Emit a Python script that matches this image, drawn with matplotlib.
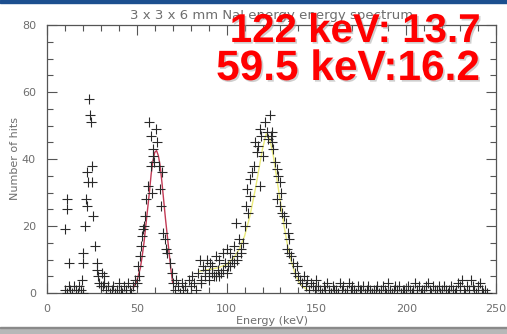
import matplotlib
matplotlib.use("Agg")
import matplotlib.pyplot as plt
import matplotlib.patheffects as pe
from matplotlib.ticker import MultipleLocator

# measured spectrum (energy in keV, number of hits)
energy = [
    10, 11, 12, 13, 14, 15, 16, 17, 18, 19, 20,
    11, 11.3, 10, 12, 19.3, 20.2, 20.2, 21.2, 21.7, 22.1, 22.1, 23, 24.9,
    23.4, 23.9, 24.5, 25.2, 25.8, 26.7, 27.7, 28, 28.5, 29, 30, 30.5, 31.5,
    31, 32, 33, 34, 35, 36, 37, 38, 39, 40, 41, 42, 43, 44, 45, 46, 47, 48, 49,
    50, 50.8, 51.3, 51.8, 52.5, 53, 53.6, 54, 54.6, 55.1, 56, 56.8, 57.7, 57.7,
    58.6, 59.2, 59.2, 59.5, 60.5, 61.4, 62.4, 62.9, 63.9, 63.5, 64.8, 65.7,
    66.5, 67, 68.5, 69.4, 70, 71, 72, 73, 74, 75, 76, 77, 78, 79, 80, 81, 82,
    83, 84, 85, 86, 87, 88, 89, 90, 91, 92, 93, 94, 95, 96, 97, 98, 99, 100,
    101, 102, 103, 104, 105, 106, 107, 108, 109, 110, 111, 111.5, 112, 113,
    113, 114, 115, 115.8, 116.8, 117.5, 118.6, 118.6, 119, 120.4, 121.4, 122.3,
    123, 124.2, 124.5, 125, 125.5, 126, 127, 127.9, 127.9, 128.5, 129.7, 129.7,
    130.5, 131, 132, 133, 133.5, 134, 134.5, 135, 136, 137, 138, 139, 140, 141,
    142, 143, 144,
    145, 146, 147, 148, 149, 150, 151, 152, 153, 154, 155, 156, 157, 158, 159,
    160, 161, 162, 163, 164, 165, 166, 167, 168, 169, 170, 171, 172, 173, 174,
    175, 176, 177, 178, 179, 180, 181, 182, 183, 184, 185, 186, 187, 188, 189,
    190, 191, 192, 193, 194, 195, 196, 197, 198, 199, 200, 201, 202, 203, 204,
    205, 206, 207, 208, 209, 210, 211, 212, 213, 214, 215, 216, 217, 218, 219,
    220, 221, 222, 223, 224, 225, 226, 227, 228, 229, 230, 231, 232, 233, 234,
    235, 236, 237, 238, 239, 240, 241, 242, 243, 244, 245,
    86, 88, 90, 92, 94, 96, 98, 100, 102, 104, 106, 108,
]
hits = [
    1, 0, 2, 1, 0, 2, 1, 0, 2, 1, 0,
    28, 25, 19, 9, 4, 9, 12, 20, 28, 26, 36, 33, 33,
    58, 53, 51, 38, 23, 14, 9, 7, 5, 3, 2, 6, 5,
    2, 3, 1, 2, 0, 1, 2, 0, 1, 3, 1, 0, 2, 1, 3, 1, 0, 2, 4,
    3, 8, 5, 11, 14, 17, 19, 20, 23, 28, 32, 51, 47, 38,
    30, 43, 41, 39, 49, 45, 38, 31, 36, 26, 18, 16,
    13, 12, 9, 6, 3, 1, 4, 2, 0, 3, 1, 2, 0, 4, 2, 5, 3,
    1, 6, 10, 4, 8, 7, 10, 6, 9, 8, 5, 11, 7, 10, 6, 12, 9, 13,
    8, 12, 10, 14, 21, 11, 16, 13, 15, 20, 26, 31, 24, 29,
    34, 36, 38, 45, 42, 44, 49, 32, 47, 41, 51, 48,
    46, 53, 47, 45, 48, 43, 39, 37, 28, 35, 33, 26,
    30, 24, 23, 21, 13, 18, 16, 12, 11, 9, 6, 8, 5, 4,
    3, 5, 2,
    4, 1, 3, 2, 1, 4, 2, 1, 0, 2, 1, 3, 1, 0, 2,
    1, 1, 0, 3, 1, 2, 0, 1, 3, 1, 2, 1, 0, 2, 1,
    1, 2, 0, 1, 2, 1, 0, 1, 1, 2, 0, 1, 2, 1, 0,
    3, 1, 0, 1, 2, 1, 2, 0, 1, 1, 0, 2, 1, 0, 1,
    3, 1, 2, 0, 1, 1, 2, 3, 1, 0, 2, 1, 1, 2, 0,
    1, 2, 1, 0, 1, 2, 1, 0, 1, 3, 2, 4, 1, 0, 2,
    1, 4, 2, 1, 0, 2, 3, 1, 0, 1, 0,
    3, 5, 4, 6, 5, 5, 7, 6, 8, 9, 10, 12,
]

# fitted peaks
fit59_energy = [48, 50, 52, 53, 54, 55, 56, 57, 58, 59, 60, 61, 62, 63, 64,
                65, 66, 67, 68, 69, 70]
fit59_hits = [1.5, 3.5, 7.5, 11, 15, 20, 25, 30, 35.5, 39.5, 42, 42.5, 41,
              38, 33, 27.5, 22, 17, 12, 7, 3]
fit122_energy = [85, 90, 95, 100, 104, 107, 110, 113, 116, 118, 120, 122,
                 124, 126, 128, 130, 132, 134, 136, 138, 140, 142, 145]
fit122_hits = [6.5, 7, 7.5, 8.5, 10.5, 13, 17, 23, 31, 37, 43, 47.5, 46,
               41, 34, 27, 20, 14, 9.5, 6, 3.5, 2, 1]

label_lines = ["122 keV: 13.7", "59.5 keV:16.2"]

W, H = 507, 334
fig = plt.figure(figsize=(W / 100, H / 100), dpi=100)
ax = fig.add_axes([47 / W, (H - 293) / H, 449 / W, 268 / H])

gray = "#6e6e6e"
ax.plot(fit59_energy, fit59_hits, color="#c23a55", lw=1.0, zorder=2)
ax.plot(fit122_energy, fit122_hits, color="#ecec7a", lw=1.0, zorder=2)
ax.plot(energy, hits, ls="none", marker="+", ms=7, mew=0.8,
        color="#2a2a2a", zorder=3)

ax.set_xlim(0, 250)
ax.set_ylim(0, 80)
ax.xaxis.set_major_locator(MultipleLocator(50))
ax.xaxis.set_minor_locator(MultipleLocator(10))
ax.yaxis.set_major_locator(MultipleLocator(20))
ax.yaxis.set_minor_locator(MultipleLocator(5))
ax.tick_params(which="both", direction="in", top=True, right=True,
               color="#555555", labelcolor=gray, labelsize=8)
ax.tick_params(which="major", length=7, width=0.8, pad=8)
ax.tick_params(which="minor", length=4, width=0.8)
for s in ax.spines.values():
    s.set_color("#555555")
    s.set_linewidth(0.9)

ax.set_xlabel("Energy (keV)", color=gray, fontsize=8, labelpad=1)
ax.set_ylabel("Number of hits", color=gray, fontsize=8, labelpad=1)
ax.set_title("3 x 3 x 6 mm NaI energy energy spectrum", color=gray,
             fontsize=9.5, pad=4)

# slide frame: blue band on top, gray rule at the bottom
fig.patches.append(plt.Rectangle((0, 1 - 3 / H), 1, 3 / H,
                                 transform=fig.transFigure,
                                 color="#1c4f8f", zorder=0))
fig.patches.append(plt.Rectangle((0, 0), 1, 6 / H,
                                 transform=fig.transFigure,
                                 color="#b8b8b8", zorder=0))
fig.patches.append(plt.Rectangle((0, 6 / H), 1, 1.5 / H,
                                 transform=fig.transFigure,
                                 color="#8a8a8a", zorder=0))

shadow = [pe.withSimplePatchShadow(offset=(1.2, -1.2), shadow_rgbFace="#a0a0a0",
                                   alpha=0.5)]
for text, base, size in zip(label_lines, [42, 80], [29, 30.5]):
    fig.text(480 / W, 1 - base / H, text, ha="right", va="baseline",
             color="#ff0000", fontsize=size, fontweight="bold",
             family="Liberation Sans", path_effects=shadow)

fig.savefig("out.png", dpi=100)
